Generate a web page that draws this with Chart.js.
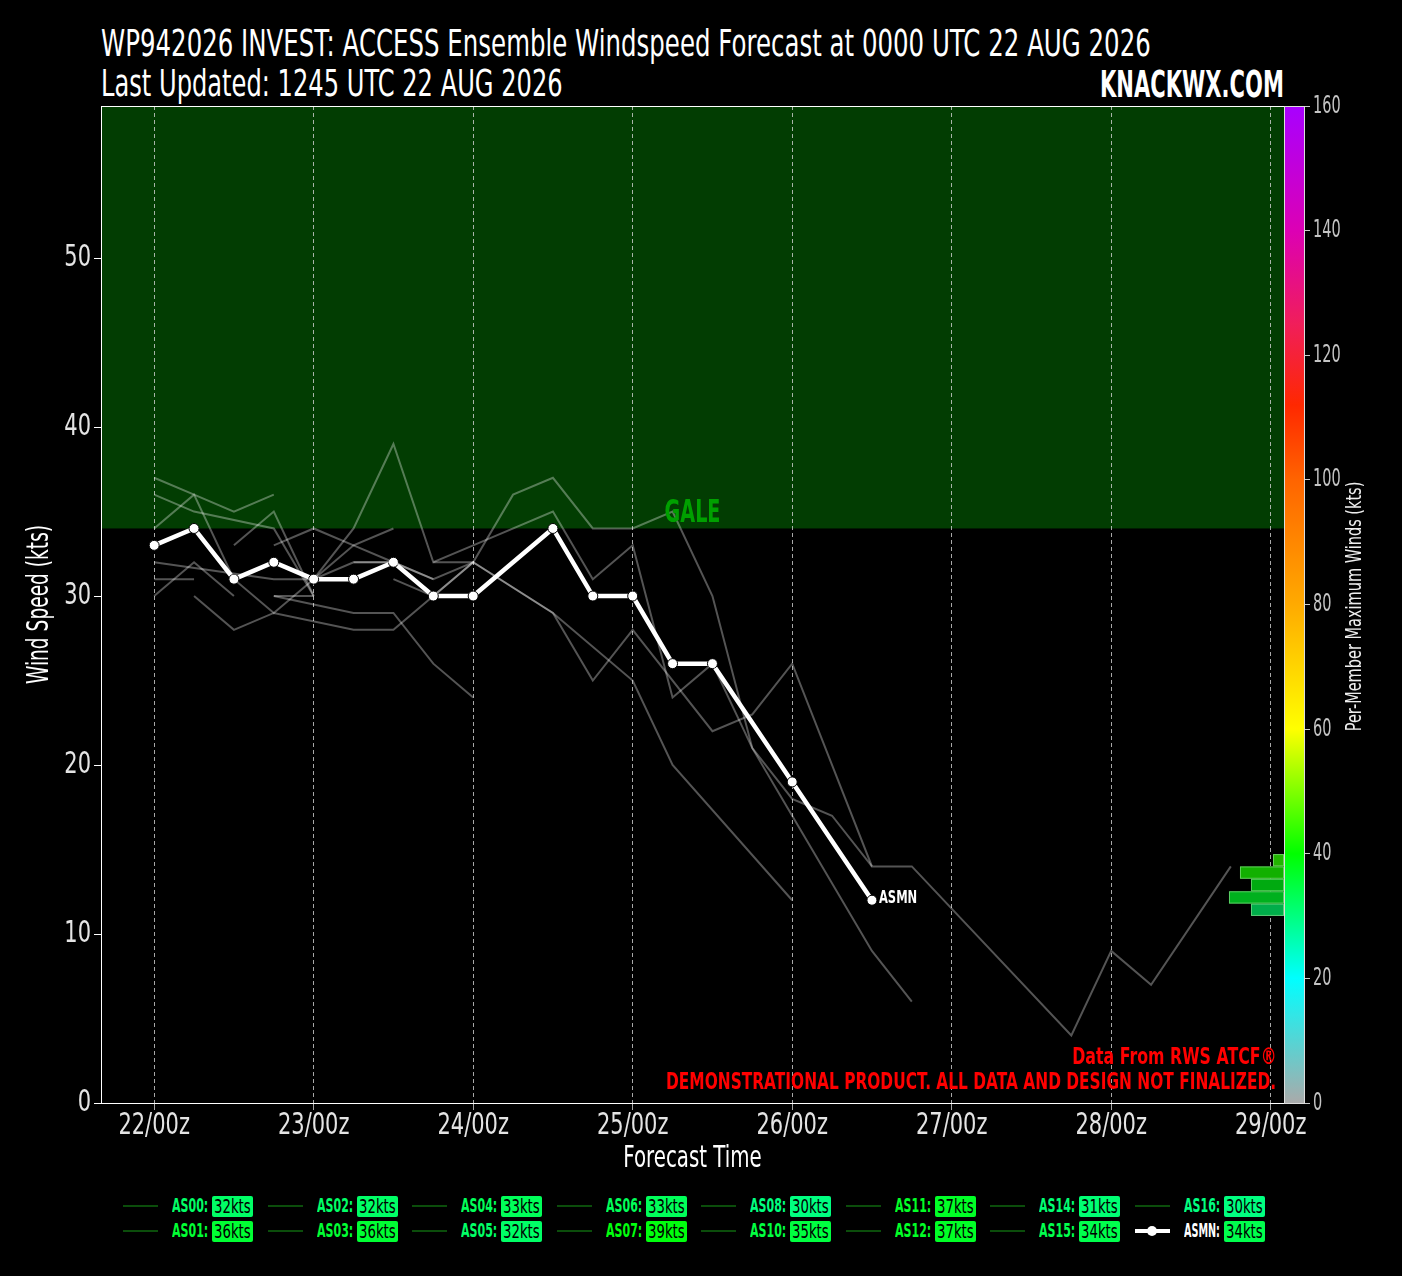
<!DOCTYPE html>
<html>
<head>
<meta charset="utf-8">
<script src="https://cdn.jsdelivr.net/npm/chart.js@4.4.1/dist/chart.umd.min.js"></script>
<style>
  body { margin: 0; background: #000; width: 1402px; height: 1276px; overflow: hidden; position: relative;
         font-family: 'DejaVu Sans', sans-serif; }
  #chartBox { position: absolute; left: 0; top: 0; width: 1402px; height: 1180px; }
  .fit { position: absolute; white-space: nowrap; line-height: 1; display: inline-block; transform-origin: left top; }
  .fit.r { transform-origin: right top; }
  .title { left: 101px; color: #fff; font-size: 38px; }
  .brand { right: 118px; top: 66px; color: #fff; font-size: 37px; font-weight: bold; }
  .note { right: 126px; color: #f00; font-size: 23px; font-weight: bold; }
  .lline { position: absolute; width: 35px; height: 2px; background: #0b4d0b; }
  .lname { font-size: 19px; font-weight: bold; }
  .lbox { position: absolute; width: 41px; height: 21px; border-radius: 2px; overflow: hidden; }
  .lbox span { position: absolute; left: 2px; top: 1px; font-size: 19px; color: #000; line-height: 1; white-space: nowrap; transform-origin: left top; }
</style>
</head>
<body>
<div class="fit title" style="top:24px" data-w="1050">WP942026 INVEST: ACCESS Ensemble Windspeed Forecast at 0000 UTC 22 AUG 2026</div>
<div class="fit title" style="top:64px" data-w="462">Last Updated: 1245 UTC 22 AUG 2026</div>
<div class="fit r brand" data-w="184">KNACKWX.COM</div>
<div id="chartBox"><canvas id="windChart" width="1402" height="1180"></canvas></div>
<div class="fit r note" style="top:1045px" data-w="204">Data From RWS ATCF®</div>
<div class="fit r note" style="top:1070px" data-w="610">DEMONSTRATIONAL PRODUCT. ALL DATA AND DESIGN NOT FINALIZED.</div>
<div id="legend"></div>
<script>
const FONT = "'DejaVu Sans', sans-serif";
const N = null;

// forecast hours from 22/00z, 6-hourly
const forecastHours = [0,6,12,18,24,30,36,42,48,54,60,66,72,78,84,90,96,102,108,114,120,126,132,138,144,150,156,162,168];
const tickHours = [0,24,48,72,96,120,144,168];
const tickLabels = ['22/00z','23/00z','24/00z','25/00z','26/00z','27/00z','28/00z','29/00z'];
const speedTicks = [0,10,20,30,40,50];
const colorbarTicks = [0,20,40,60,80,100,120,140,160];
const galeKts = 34;

// per-member winds (kts), null = no point at that hour
const as00 = [32,N,N,31,31,32,32,31,32,N,29,25,28,N,22,23,26,N,14,14,N,N,N,4,9,7,N,14];
const as01 = [36,35,N,34,30];
const as02 = [31,31];
const as03 = [34,36,31,29,31,33,34];
const as04 = [30,32,30];
const as05 = [N,N,N,33,34,33,32,31];
const as06 = [N,N,33,35,30];
const as07 = [N,N,N,N,31,34,39,32,33,N,35,31,33,24,26,21,17,N,9,6];
const as08 = [N,30,28,29,N,28,28,30,32,N,29,N,25,20,N,N,12];
const as10 = [N,N,N,N,N,N,31,30,32,36,37,34,34,35,30,21,18,17,14];
const as11 = [37,36,35,36];
const as12 = [N,N,N,N,N,32,32];
const as14 = [N,N,N,30,N,29,29,26,24];
const as15 = [N,N,N,30,30];
const as16 = [N,N,N,N,N,N,N,32,32];
const asmn = [33,34,31,32,31,31,32,30,30,N,34,30,30,26,26,N,19,N,12];

const memberSeries = [as00,as01,as02,as03,as04,as05,as06,as07,as08,as10,as11,as12,as14,as15,as16];

// legend (per-member maximum winds)
const legendNames = ['AS00','AS01','AS02','AS03','AS04','AS05','AS06','AS07','AS08','AS10','AS11','AS12','AS14','AS15','AS16','ASMN'];
const legendMax   = [32,36,32,36,33,32,33,39,30,35,37,37,31,34,30,34];

// distribution of end intensities (right edge)
const histLow   = [11.07,11.8,12.53,13.27,14.0];
const histHigh  = [11.8,12.53,13.27,14.0,14.73];
const histCount = [3,5,3,4,1];
const histColors = ['#00ad4a','#00b01e','#00aa10','#12b000','#22b400'];

// colour bar
const cbStops  = [0,20,40,60,80,100,112,125,140,160];
const cbColors = ['#aaaaaa','#00ffff','#00ff00','#ffff00','#ffaa00','#ff6400','#ff2800','#f01e5a','#dc00b4','#a800ff'];

function hexRgb(h) { return [1,3,5].map(i => parseInt(h.substr(i,2),16)); }
function windColor(v) {
  for (let i = 1; i < cbStops.length; i++) {
    if (v <= cbStops[i]) {
      const t = (v - cbStops[i-1]) / (cbStops[i] - cbStops[i-1]);
      const a = hexRgb(cbColors[i-1]), b = hexRgb(cbColors[i]);
      return 'rgb(' + a.map((c,k) => Math.round(c + (b[k]-c)*t)).join(',') + ')';
    }
  }
  return cbColors[cbColors.length-1];
}

function toPoints(arr) {
  return arr.map((v,i) => v == null ? null : {x: forecastHours[i], y: v}).filter(p => p);
}

// narrow text: draw with a horizontal squeeze
function narrowText(ctx, text, x, y, font, color, align, sx, rot) {
  ctx.save();
  ctx.translate(x, y);
  if (rot) ctx.rotate(rot);
  ctx.scale(sx, 1);
  ctx.font = font;
  ctx.fillStyle = color;
  ctx.textAlign = align;
  ctx.textBaseline = 'middle';
  ctx.fillText(text, 0, 0);
  ctx.restore();
}

const datasets = memberSeries.map(s => ({
  data: toPoints(s),
  borderColor: 'rgba(255,255,255,0.33)',
  borderWidth: 2,
  pointRadius: 0,
  xAxisID: 'x', yAxisID: 'y'
}));
datasets.push({
  data: toPoints(asmn),
  borderColor: '#fff',
  borderWidth: 4.5,
  pointRadius: 5,
  pointBackgroundColor: '#fff',
  pointBorderColor: '#000',
  pointBorderWidth: 1,
  xAxisID: 'x', yAxisID: 'y'
});

const extras = {
  id: 'extras',
  beforeDraw(chart) {
    const {ctx, chartArea: a, scales: {y}} = chart;
    ctx.save();
    ctx.fillStyle = '#023d02';
    const yg = y.getPixelForValue(galeKts);
    ctx.fillRect(a.left, a.top, a.right - a.left, yg - a.top);
    ctx.restore();
  },
  beforeDatasetsDraw(chart) {
    const {ctx, scales: {y, xh}} = chart;
    ctx.save();
    histCount.forEach((c, i) => {
      const top = y.getPixelForValue(histHigh[i]);
      const bot = y.getPixelForValue(histLow[i]);
      const x0 = xh.getPixelForValue(c), x1 = xh.getPixelForValue(0);
      ctx.fillStyle = histColors[i];
      ctx.fillRect(x0, top, x1 - x0, bot - top);
      ctx.strokeStyle = 'rgba(150,230,150,0.6)';
      ctx.lineWidth = 1;
      ctx.strokeRect(x0 + 0.5, top + 0.5, x1 - x0 - 1, bot - top - 1);
    });
    ctx.restore();
  },
  afterDraw(chart) {
    const {ctx, chartArea: a, scales: {x, y, cb}} = chart;
    // tick labels
    x.ticks.forEach((t, i) => narrowText(ctx, tickLabels[i], x.getPixelForValue(t.value), a.bottom + 23,
      '30px ' + FONT, '#e4e4e4', 'center', 0.7));
    y.ticks.forEach(t => narrowText(ctx, String(t.value), a.left - 10, y.getPixelForValue(t.value),
      '30px ' + FONT, '#e4e4e4', 'right', 0.7));
    cb.ticks.forEach(t => narrowText(ctx, String(t.value), cb.left + 29, cb.getPixelForValue(t.value),
      '25px ' + FONT, '#c4c4c4', 'left', 0.58));
    // axis titles
    narrowText(ctx, 'Forecast Time', (a.left + a.right) / 2, a.bottom + 56, '30px ' + FONT, '#fff', 'center', 0.66);
    narrowText(ctx, 'Wind Speed (kts)', 40, (a.top + a.bottom) / 2, '30px ' + FONT, '#fff', 'center', 0.62, -Math.PI / 2);
    narrowText(ctx, 'Per-Member Maximum Winds (kts)', cb.left + 71, (a.top + a.bottom) / 2 + 2, '22px ' + FONT, '#eee', 'center', 0.66, -Math.PI / 2);
    // GALE label
    narrowText(ctx, 'GALE', x.getPixelForValue(81), y.getPixelForValue(galeKts) - 15, 'bold 32px ' + FONT, '#00a000', 'center', 0.6);
    // ASMN label at last mean point
    const meta = chart.getDatasetMeta(chart.data.datasets.length - 1);
    const last = meta.data[meta.data.length - 1];
    narrowText(ctx, 'ASMN', last.x + 7, last.y - 2, 'bold 18px ' + FONT, '#fff', 'left', 0.64);
    ctx.save();
    // frame
    ctx.strokeStyle = '#fff';
    ctx.lineWidth = 1;
    ctx.strokeRect(a.left + 0.5, a.top + 0.5, a.right - a.left, a.bottom - a.top);
    // colour bar
    const top = cb.getPixelForValue(160), bot = cb.getPixelForValue(0);
    const g = ctx.createLinearGradient(0, bot, 0, top);
    cbStops.forEach((s, i) => g.addColorStop(s / 160, cbColors[i]));
    ctx.fillStyle = g;
    ctx.fillRect(cb.left + 1, top, 19, bot - top);
    ctx.strokeStyle = '#ddd';
    ctx.strokeRect(cb.left + 0.5, top + 0.5, 20, bot - top);
    ctx.restore();
  }
};

new Chart(document.getElementById('windChart'), {
  type: 'line',
  data: { datasets },
  options: {
    responsive: false,
    animation: false,
    layout: { padding: { top: 106, left: 0, right: 0, bottom: 0 } },
    plugins: { legend: { display: false }, tooltip: { enabled: false } },
    elements: { line: { tension: 0 } },
    scales: {
      x: {
        type: 'linear', min: -8, max: 170,
        afterBuildTicks: s => { s.ticks = tickHours.map(v => ({ value: v })); },
        afterFit: s => { s.height = 77; },
        ticks: { display: false },
        grid: { color: 'rgba(210,210,210,0.8)', lineWidth: 1, tickLength: 7 },
        border: { color: '#fff', dash: [4, 3] }
      },
      y: {
        type: 'linear', position: 'left', min: 0, max: 59,
        afterBuildTicks: s => { s.ticks = speedTicks.map(v => ({ value: v })); },
        afterFit: s => { s.width = 101; },
        ticks: { display: false },
        grid: { drawOnChartArea: false, color: '#fff', tickLength: 7 },
        border: { color: '#fff' }
      },
      cb: {
        type: 'linear', position: 'right', min: 0, max: 160,
        afterBuildTicks: s => { s.ticks = colorbarTicks.map(v => ({ value: v })); },
        afterFit: s => { s.width = 118; },
        ticks: { display: false },
        grid: { drawOnChartArea: false, color: '#ccc', tickLength: 26 },
        border: { color: '#fff' }
      },
      xh: { type: 'linear', axis: 'x', display: false, min: 0, max: 107.5, reverse: true }
    }
  },
  plugins: [extras]
});

// legend: 8 columns x 2 rows
const legend = document.getElementById('legend');
legendNames.forEach((name, i) => {
  const col = Math.floor(i / 2), row = i % 2;
  const cx = 123 + col * 144.5, cy = 1206 + row * 25;
  const isMean = name === 'ASMN';
  const c = windColor(legendMax[i]);
  const ln = document.createElement('div');
  ln.className = 'lline';
  ln.style.left = cx + 'px';
  ln.style.top = (cy - 1) + 'px';
  if (isMean) {
    ln.style.background = '#fff';
    ln.style.height = '4px';
    ln.style.top = (cy - 2) + 'px';
    const dot = document.createElement('div');
    dot.style.cssText = 'position:absolute;left:12px;top:-3px;width:10px;height:10px;border-radius:50%;background:#fff;';
    ln.appendChild(dot);
  }
  const nm = document.createElement('div');
  nm.className = 'fit lname';
  nm.style.left = (cx + 49) + 'px';
  nm.style.top = (cy - 10) + 'px';
  nm.style.color = isMean ? '#fff' : c;
  nm.dataset.w = 36;
  nm.textContent = name + ':';
  const bx = document.createElement('div');
  bx.className = 'lbox';
  bx.style.left = (cx + 89) + 'px';
  bx.style.top = (cy - 10) + 'px';
  bx.style.background = c;
  const bt = document.createElement('span');
  bt.dataset.w = 37;
  bt.textContent = legendMax[i] + 'kts';
  bx.appendChild(bt);
  legend.append(ln, nm, bx);
});

// squeeze texts to the reference widths
function fitAll() {
  document.querySelectorAll('[data-w]').forEach(el => {
    const w = el.offsetWidth;
    if (w > 0) el.style.transform = 'scaleX(' + (Number(el.dataset.w) / w) + ')';
  });
}
fitAll();
if (document.fonts) document.fonts.ready.then(fitAll);
</script>
</body>
</html>
